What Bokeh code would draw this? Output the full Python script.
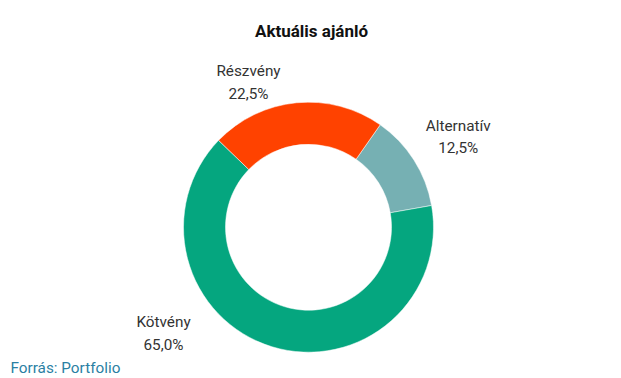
import math
from bokeh.plotting import figure
from bokeh.models import Range1d, ColumnDataSource
from bokeh.core.properties import value
from bokeh.embed import file_html
from bokeh.resources import INLINE

# ---- data ----
categories = ["Alternatív", "Kötvény", "Részvény"]
shares = [12.5, 65.0, 22.5]
colors = ["#76b0b3", "#05a67f", "#ff4200"]
title_text = "Aktuális ajánló"
source_text = "Forrás: Portfolio"

# ---- layout (pixel coords, y down) ----
W, H = 621, 378
cx, cy = 308, 226.7
r_out, r_in = 125, 83
start_deg = 35.0  # clockwise from 12 o'clock
label_pos = [(457.7, 136.7), (163, 333), (248, 82)]

def fy(y):
    return H - y

total = sum(shares)
starts, ends = [], []
acc = start_deg
for s in shares:
    a0 = acc
    a1 = acc + s / total * 360.0
    starts.append(math.radians(90 - a0))
    ends.append(math.radians(90 - a1))
    acc = a1

src = ColumnDataSource(dict(
    x=[cx] * len(shares), y=[fy(cy)] * len(shares),
    start=starts, end=ends, color=colors,
))

p = figure(width=W, height=H, output_backend="svg", toolbar_location=None,
           x_range=Range1d(0, W), y_range=Range1d(0, H),
           min_border=0, min_border_left=0, min_border_right=0,
           min_border_top=0, min_border_bottom=0)
p.axis.visible = False
p.grid.visible = False
p.outline_line_color = None
p.background_fill_color = "white"
p.border_fill_color = "white"

p.annular_wedge(x="x", y="y", inner_radius=r_in, outer_radius=r_out,
                inner_radius_units="screen", outer_radius_units="screen",
                start_angle="start", end_angle="end", direction="clock",
                fill_color="color", line_color="white", line_width=0.5,
                source=src)

lab_src = ColumnDataSource(dict(
    x=[lp[0] for lp in label_pos],
    y=[fy(lp[1]) for lp in label_pos],
    t=["%s\n%s%%" % (c, ("%.1f" % v).replace(".", ",")) for c, v in zip(categories, shares)],
))
p.text(x="x", y="y", text="t", source=lab_src, text_align="center",
       text_baseline="middle", text_font=value("Roboto"),
       text_font_size="15.3px", text_color="#333333", text_line_height=1.25)

p.text(x=[311], y=[fy(30)], text=[title_text], text_align="center",
       text_baseline="middle", text_font=value("Roboto"),
       text_font_style="bold", text_font_size="17px", text_color="#111111")

p.text(x=[10], y=[fy(367.5)], text=[source_text], text_align="left",
       text_baseline="middle", text_font=value("Roboto"),
       text_font_size="15.3px", text_color="#2b7fa3")

open("out.html", "w").write(file_html(p, INLINE))
